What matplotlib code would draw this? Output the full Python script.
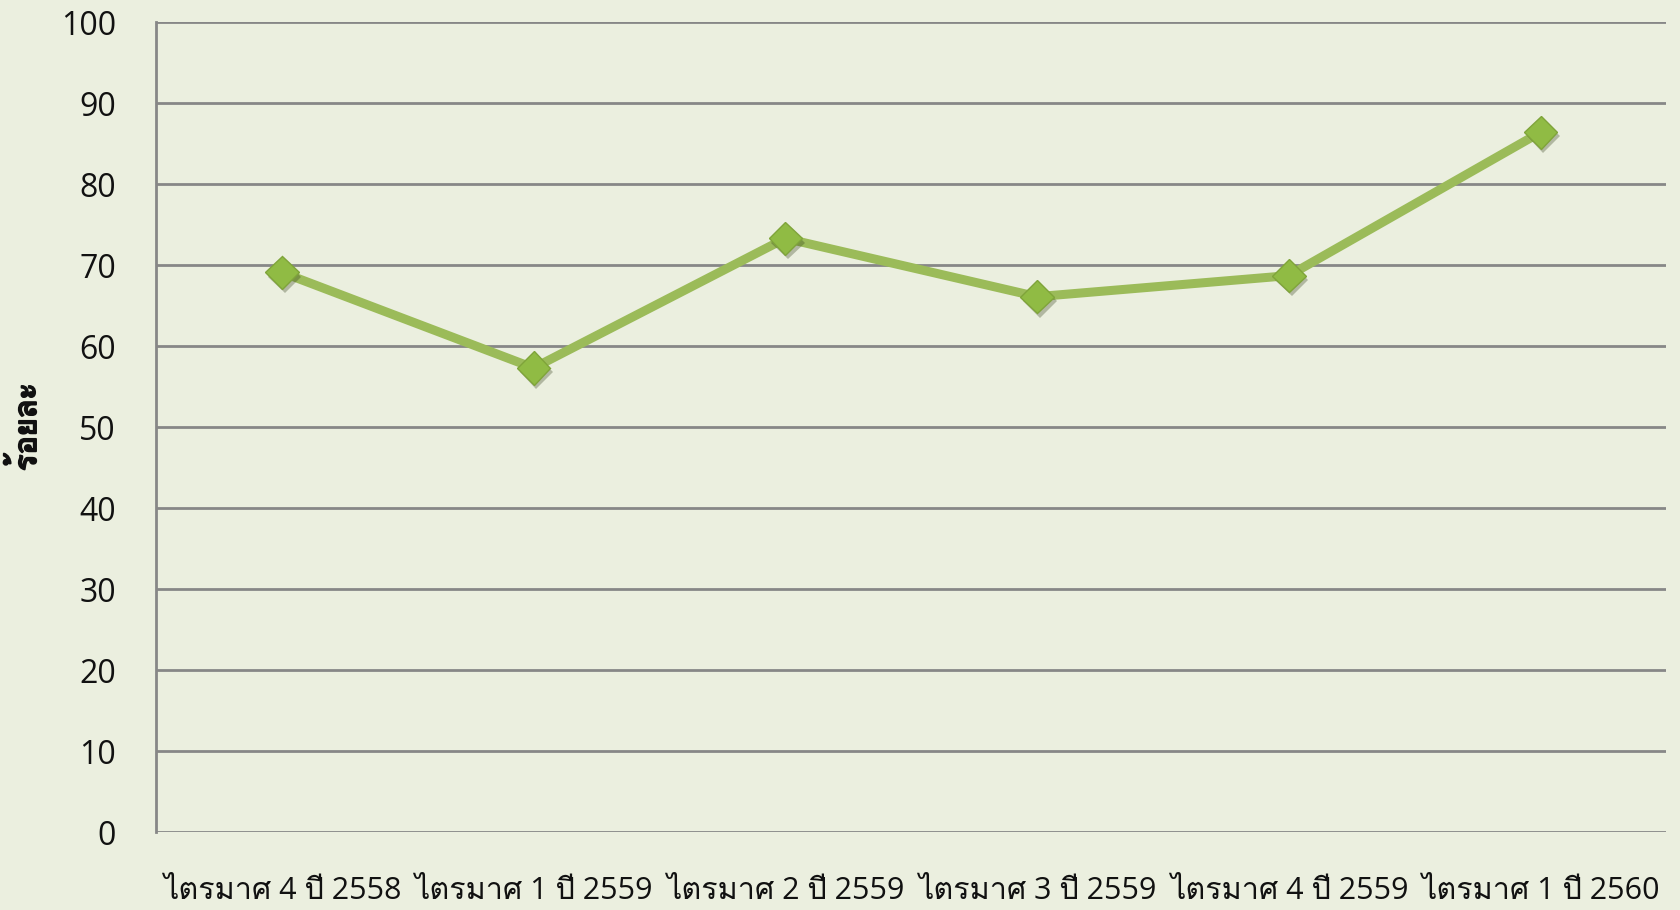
import matplotlib
matplotlib.use("Agg")
import matplotlib.pyplot as plt
import matplotlib.patheffects as pe
from matplotlib import font_manager
from matplotlib.ft2font import FT2Font

quarters = ["ไตรมาศ 4 ปี 2558", "ไตรมาศ 1 ปี 2559", "ไตรมาศ 2 ปี 2559",
            "ไตรมาศ 3 ปี 2559", "ไตรมาศ 4 ปี 2559", "ไตรมาศ 1 ปี 2560"]
percent = [69.1, 57.3, 73.3, 66.1, 68.7, 86.4]
y_ticks = [0, 10, 20, 30, 40, 50, 60, 70, 80, 90, 100]
y_label = "ร้อยละ"


def thai_family():
    # find an installed font that can draw Thai, tone marks included
    for f in font_manager.fontManager.ttflist:
        try:
            ft = FT2Font(f.fname)
            if all(ft.get_char_index(c) for c in (0x0E44, 0x0E23, 0x0E49, 0x0E35)):
                return f.name
        except Exception:
            pass
    return None


fam = thai_family()
families = ["Open Sans"] + ([fam] if fam else []) + ["DejaVu Sans"]
plt.rcParams['font.family'] = families

bg = "#ebefdf"
fig = plt.figure(figsize=(16.8, 9.1), dpi=100, facecolor=bg)
ax = fig.add_axes([0.0929, 0.0857, 0.899, 0.890])
ax.set_facecolor(bg)

x = list(range(len(quarters)))
ax.plot(x, percent, color="#9bbb59", lw=6.5, solid_capstyle="round", zorder=3)
ax.plot(x, percent, ls="none", marker="D", ms=17, mfc="#90bb44", mec="#7fa43a", mew=1,
        zorder=4, path_effects=[pe.SimplePatchShadow(offset=(2, -3), alpha=0.3), pe.Normal()])

ax.set_xlim(-0.5, len(quarters) - 0.5)
ax.set_ylim(0, 100)
ax.set_yticks(y_ticks)
ax.set_xticks(x)
ax.set_xticklabels(quarters, fontsize=22)
ax.tick_params(axis="y", labelsize=23, length=0, pad=29, labelcolor="#111111")
ax.tick_params(axis="x", length=0, pad=32, labelcolor="#111111")
ax.grid(axis="y", color="#878787", lw=2)
ax.set_axisbelow(True)
for s in ["top", "right", "bottom"]:
    ax.spines[s].set_visible(False)
ax.spines["left"].set_color("#878787")
ax.spines["left"].set_linewidth(2)

# y label placed by hand, the reference has it near the left edge
fig.text(27 / 1680, 0.0857 + 0.890 / 2, y_label, rotation=90, ha="center", va="center",
         fontsize=22, color="#111111",
         path_effects=[pe.withStroke(linewidth=1.4, foreground="#111111")])

fig.savefig("out.png", dpi=100, facecolor=bg)
